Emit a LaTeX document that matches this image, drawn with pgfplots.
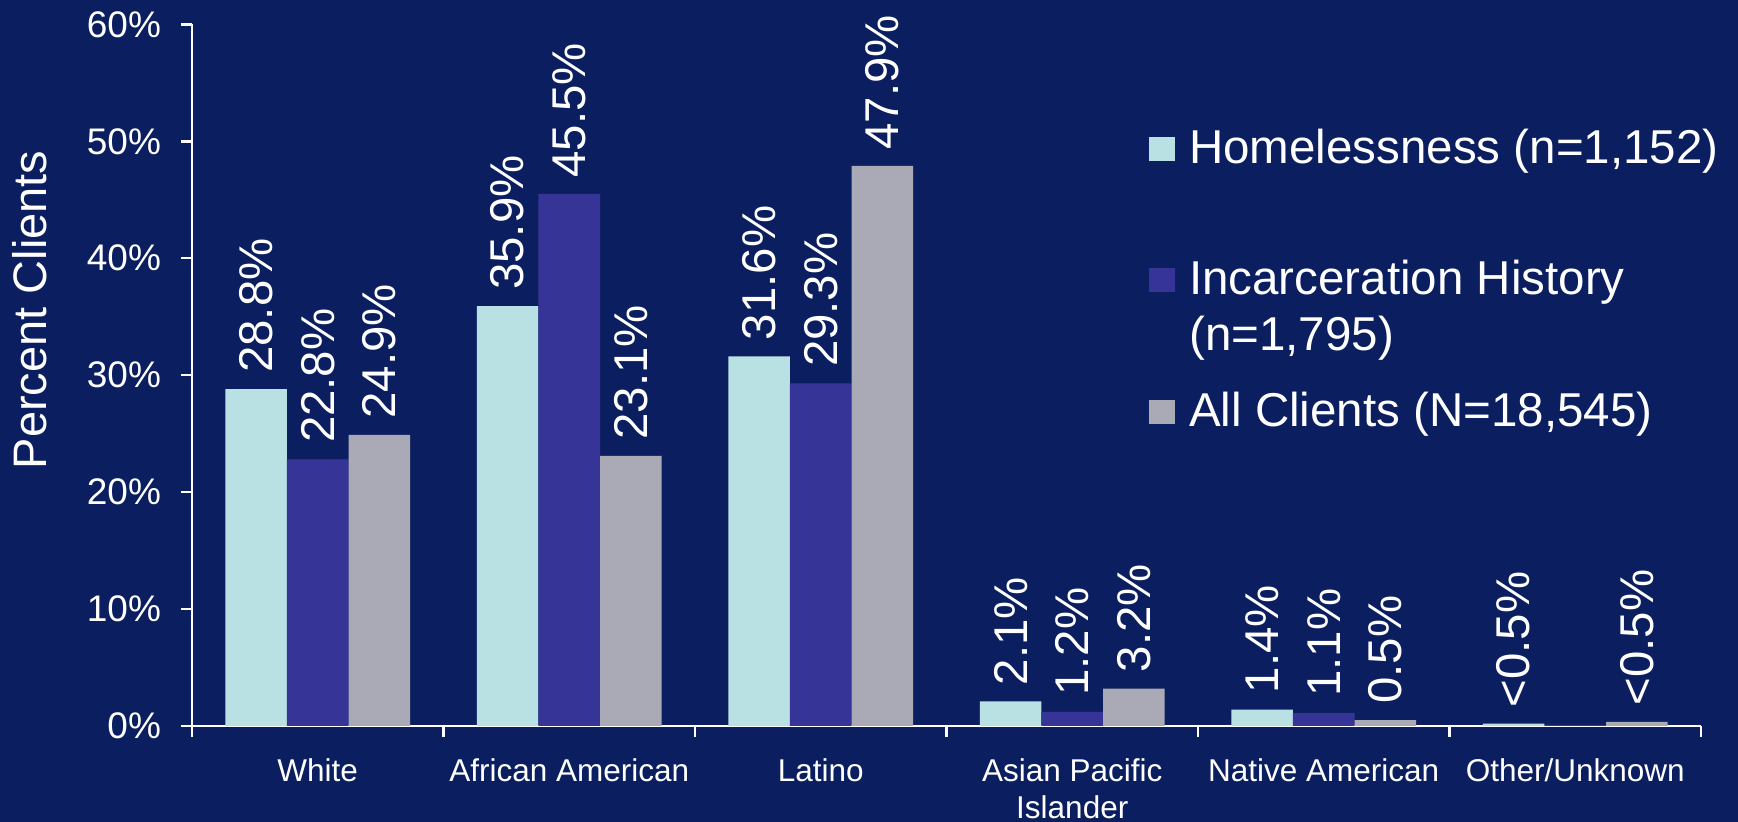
\documentclass[border=0pt]{standalone}
\usepackage{pgfplots}
\pgfplotsset{compat=1.18}
\usepackage{fontspec}
\setmainfont{Liberation Sans}
\definecolor{bg}{RGB}{11,31,96}
\definecolor{cA}{RGB}{185,224,227}
\definecolor{cB}{RGB}{55,52,152}
\definecolor{cC}{RGB}{170,170,182}
\begin{document}
\begin{tikzpicture}
\fill[bg] (0,0) rectangle (869pt,411pt);
\begin{axis}[
  at={(96pt,48pt)}, anchor=south west,
  scale only axis, width=754.5pt, height=350.8pt,
  xmin=-0.5, xmax=5.5, ymin=0, ymax=60,
  axis x line*=bottom, axis y line*=left,
  axis line style={white, line width=1.2pt},
  tick style={white, line width=1.2pt},
  tick align=outside, major tick length=5.5pt,
  ybar=0pt, bar width=30.8pt,
  xtick={-0.5,0.5,1.5,2.5,3.5,4.5,5.5}, xticklabels={},
  extra x ticks={0,1,2,3,4,5},
  extra x tick labels={White, African American, Latino, {Asian Pacific\\Islander}, Native American, Other/Unknown},
  extra x tick style={major tick length=0pt, xticklabel style={align=center, yshift=-13pt}},
  ytick={0,10,20,30,40,50,60},
  yticklabel={\pgfmathprintnumber{\tick}\%},
  /pgf/number format/assume math mode=true,
  yticklabel style={font=\fontsize{18.5}{21}\selectfont, text=white, xshift=-6.5pt},
  xticklabel style={font=\fontsize{15.75}{18.5}\selectfont, text=white},
  ylabel={Percent Clients},
  every axis y label/.style={at={(axis description cs:0,0.593)}, xshift=-81pt, rotate=90, anchor=center, font=\fontsize{23.5}{28}\selectfont, text=white},
  nodes near coords, point meta=explicit symbolic,
  every node near coord/.style={font=\fontsize{23.7}{27}\selectfont, text=white, inner sep=0pt},
  legend style={at={(axis description cs:0.6342,0.8595)}, anchor=north west, draw=none, fill=none, inner sep=0pt, row sep=0pt, column sep=7pt, font=\fontsize{23.75}{27.5}\selectfont, text=white, nodes={inner sep=0pt}, cells={anchor=base west}},
]
\addlegendimage{legend image code/.code={\fill[cA] (0pt,1.5pt) rectangle (12.5pt,13pt); \path (0pt,-45pt) (0pt,20pt);}}
\addlegendentry{Homelessness (n=1,152)}
\addlegendimage{legend image code/.code={\fill[cB] (0pt,1.5pt) rectangle (12.5pt,13pt); \path (0pt,-7.5pt) (0pt,20pt);}}
\addlegendentry{Incarceration History}
\addlegendimage{legend image code/.code={\path (0pt,-17.5pt) (0pt,20pt);}}
\addlegendentry{(n=1,795)}
\addlegendimage{legend image code/.code={\fill[cC] (0pt,1.5pt) rectangle (12.5pt,13pt); \path (0pt,-7.5pt) (0pt,20pt);}}
\addlegendentry{All Clients (N=18,545)}
\addplot[fill=cA, draw=none, forget plot, bar shift=-30.8pt,
  every node near coord/.append style={xshift=-30.8pt, yshift=8pt, rotate=90, anchor=west}]
  coordinates {(0,28.8)[28.8\%] (1,35.9)[35.9\%] (2,31.6)[31.6\%] (3,2.1)[2.1\%] (4,1.4)[1.4\%] (5,0.2)[<0.5\%]};
\addplot[fill=cB, draw=none, forget plot, bar shift=0pt,
  every node near coord/.append style={yshift=8pt, rotate=90, anchor=west}]
  coordinates {(0,22.8)[22.8\%] (1,45.5)[45.5\%] (2,29.3)[29.3\%] (3,1.2)[1.2\%] (4,1.1)[1.1\%] (5,0.1)[{}]};
\addplot[fill=cC, draw=none, forget plot, bar shift=30.8pt,
  every node near coord/.append style={xshift=30.8pt, yshift=8pt, rotate=90, anchor=west}]
  coordinates {(0,24.9)[24.9\%] (1,23.1)[23.1\%] (2,47.9)[47.9\%] (3,3.2)[3.2\%] (4,0.5)[0.5\%] (5,0.35)[<0.5\%]};
\end{axis}
\pgfresetboundingbox
\useasboundingbox (0,0) rectangle (869pt,411pt);
\end{tikzpicture}
\end{document}
